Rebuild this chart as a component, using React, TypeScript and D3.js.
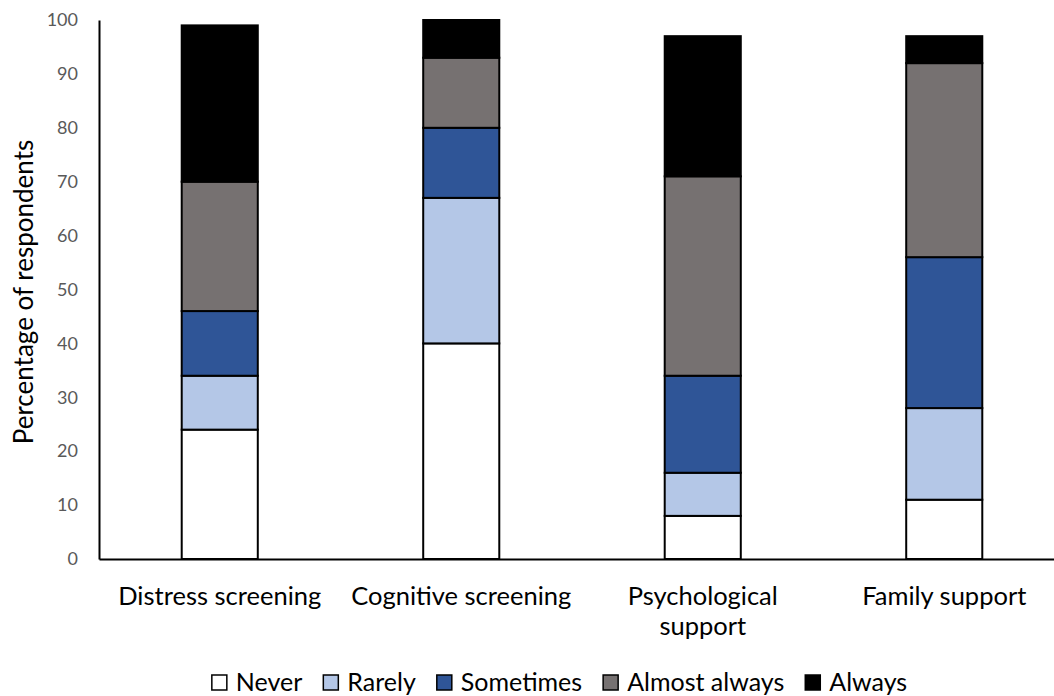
import * as d3 from "d3";
import { useEffect, useRef } from "react";

const categories = [
  "Distress screening",
  "Cognitive screening",
  "Psychological support",
  "Family support",
];
const seriesNames = ["Never", "Rarely", "Sometimes", "Almost always", "Always"];
const never = [24, 40, 8, 11];
const rarely = [10, 27, 8, 17];
const sometimes = [12, 13, 18, 28];
const almostAlways = [24, 13, 37, 36];
const always = [29, 7, 26, 5];
const colors = ["#ffffff", "#b4c7e7", "#2f5597", "#767171", "#000000"];
const yTicks = [0, 10, 20, 30, 40, 50, 60, 70, 80, 90, 100];

const W = 1054;
const H = 696;
const FONT = "Lato, 'Open Sans', sans-serif";

export default function App() {
  const ref = useRef<SVGSVGElement>(null);

  useEffect(() => {
    const svg = d3.select(ref.current);
    svg.selectAll("*").remove();

    const rows = categories.map((c, i) => ({
      category: c,
      Never: never[i],
      Rarely: rarely[i],
      Sometimes: sometimes[i],
      "Almost always": almostAlways[i],
      Always: always[i],
    }));
    const stacked = d3.stack<any>().keys(seriesNames)(rows);

    const x = d3
      .scaleBand()
      .domain(categories)
      .range([99, 1065])
      .paddingInner(0.685)
      .paddingOuter(0.3425);
    const y = d3.scaleLinear().domain([0, 100]).range([559, 20]);

    // bars
    svg
      .append("g")
      .selectAll("g")
      .data(stacked)
      .join("g")
      .attr("fill", (_, i) => colors[i])
      .selectAll("rect")
      .data((d) => d)
      .join("rect")
      .attr("x", (d: any) => x(d.data.category)!)
      .attr("width", x.bandwidth())
      .attr("y", (d) => y(d[1]))
      .attr("height", (d) => y(d[0]) - y(d[1]))
      .attr("stroke", "#000")
      .attr("stroke-width", 2);

    // y axis
    const ya = svg
      .append("g")
      .attr("transform", "translate(99,0)")
      .call(d3.axisLeft(y).tickValues(yTicks).tickSize(0).tickPadding(21));
    ya.select(".domain").attr("stroke", "#000").attr("stroke-width", 2);
    ya.selectAll("text")
      .attr("fill", "#595959")
      .style("font-family", FONT)
      .style("font-size", "18px");

    // x axis
    const xa = svg
      .append("g")
      .attr("transform", "translate(0,559)")
      .call(d3.axisBottom(x).tickSize(0).tickFormat(() => ""));
    xa.select(".domain").attr("stroke", "#000").attr("stroke-width", 2);

    const labels = svg
      .append("g")
      .selectAll("text")
      .data(categories)
      .join("text")
      .attr("x", (d) => x(d)! + x.bandwidth() / 2)
      .attr("y", 605)
      .attr("text-anchor", "middle")
      .style("font-family", FONT)
      .style("font-size", "25.5px")
      .attr("fill", "#000");
    labels.each(function (d) {
      const t = d3.select(this);
      const lines = d === "Psychological support" ? ["Psychological", "support"] : [d];
      lines.forEach((l, i) => {
        t.append("tspan")
          .attr("x", x(d)! + x.bandwidth() / 2)
          .attr("dy", i === 0 ? 0 : 30)
          .text(l);
      });
    });

    // y title
    svg
      .append("text")
      .attr("transform", `translate(33,292) rotate(-90)`)
      .attr("text-anchor", "middle")
      .style("font-family", FONT)
      .style("font-size", "26px")
      .attr("fill", "#000")
      .text("Percentage of respondents");

    // legend
    const legend = svg.append("g");
    let lx = 0;
    seriesNames.forEach((name, i) => {
      const g = legend.append("g").attr("transform", `translate(${lx},0)`);
      g.append("rect")
        .attr("x", 0)
        .attr("y", -16)
        .attr("width", 15)
        .attr("height", 15)
        .attr("fill", colors[i])
        .attr("stroke", "#000")
        .attr("stroke-width", 1.5);
      const t = g
        .append("text")
        .attr("x", 24)
        .attr("y", 0)
        .style("font-family", FONT)
        .style("font-size", "25px")
        .attr("fill", "#000")
        .text(name);
      const w = (t.node() as SVGTextElement).getComputedTextLength();
      lx += 24 + w + 21;
    });
    const totalW = lx - 21;
    legend.attr("transform", `translate(${559.5 - totalW / 2},691)`);
  }, []);

  return (
    <svg
      ref={ref}
      width={W}
      height={H}
      style={{ display: "block", position: "absolute", left: 0, top: 0, background: "#fff" }}
    />
  );
}
